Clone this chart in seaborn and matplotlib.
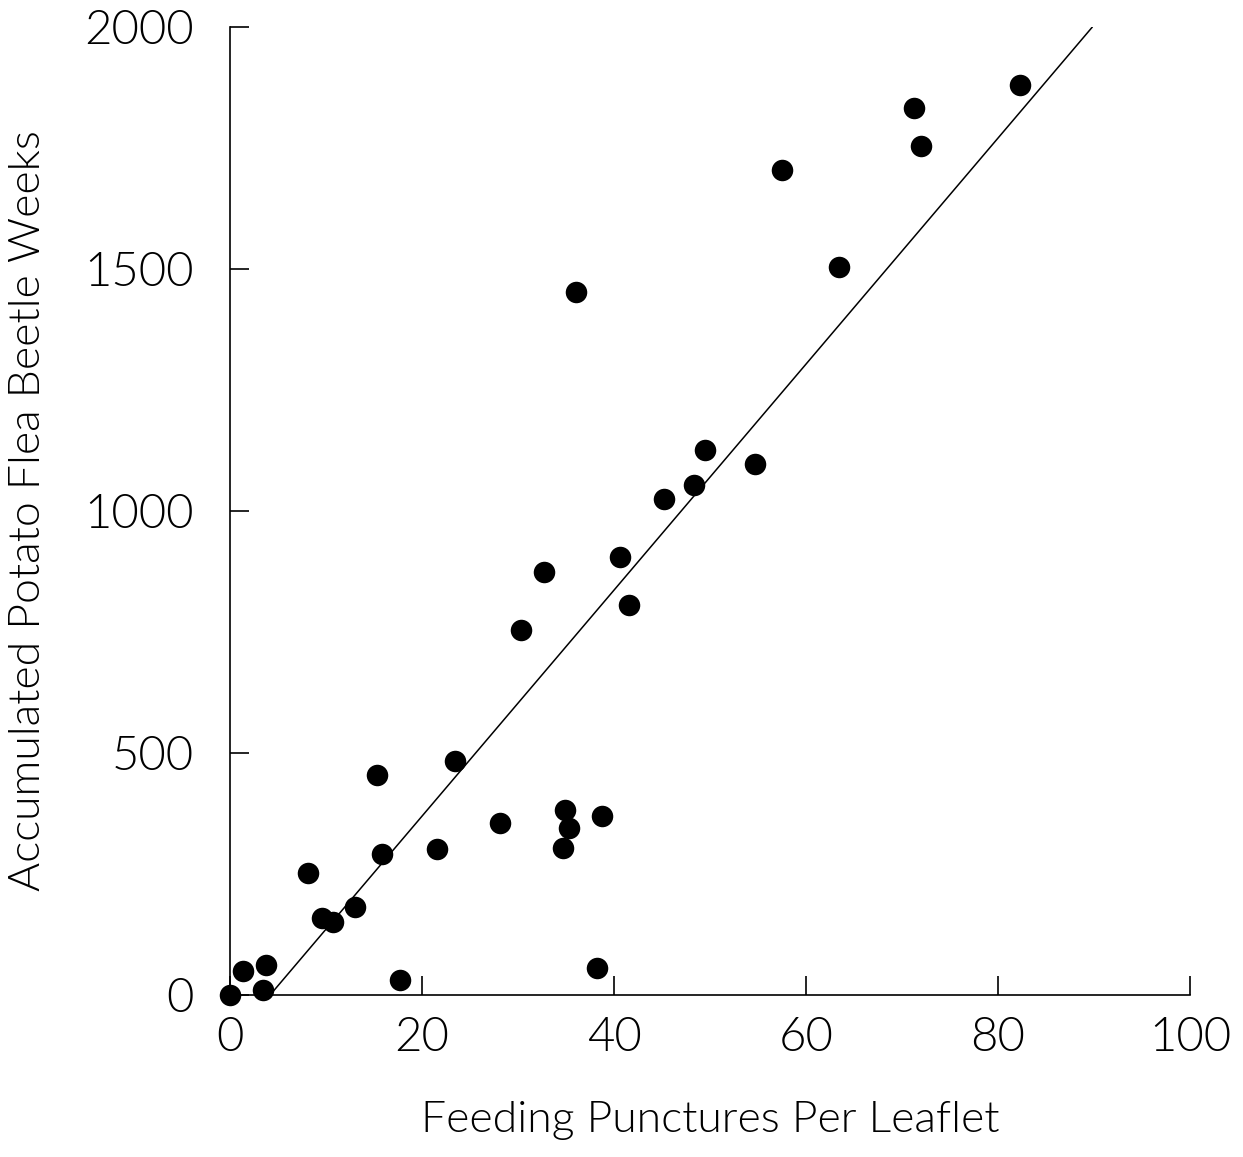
import numpy as np
import pandas as pd
import matplotlib
matplotlib.use("Agg")
import matplotlib.pyplot as plt
import seaborn as sns

# Feeding punctures per leaflet vs. accumulated flea beetle weeks
punctures = [0.0, 1.4, 3.7, 3.4, 8.1, 9.6, 10.7, 13.0, 15.3, 15.8, 17.7, 21.6,
             23.4, 28.1, 30.3, 32.7, 34.7, 34.9, 35.3, 36.0, 38.2, 38.7, 40.6,
             41.6, 45.2, 48.3, 49.5, 54.7, 57.5, 63.4, 71.3, 72.0, 82.3]
beetle_weeks = [0, 50, 62, 10, 252, 160, 150, 182, 455, 292, 32, 302,
                484, 355, 755, 875, 304, 383, 345, 1452, 56, 370, 904,
                805, 1024, 1053, 1127, 1098, 1704, 1504, 1832, 1754, 1880]

# Fitted line: beetle_weeks = slope * punctures + intercept
fit_slope = 23.35
fit_intercept = -97.5

df = pd.DataFrame({"x": punctures, "y": beetle_weeks})

sns.set_style("ticks")
plt.rcParams["font.family"] = ["Lato", "DejaVu Sans"]
plt.rcParams["text.color"] = "black"
plt.rcParams["axes.labelcolor"] = "black"

WEIGHT = 300

fig = plt.figure(figsize=(12.43, 11.57), dpi=100)
ax = fig.add_axes([230 / 1243, 162 / 1157, 960 / 1243, 968 / 1157])

sns.scatterplot(data=df, x="x", y="y", ax=ax, color="black", s=240,
                edgecolor="black", linewidth=0, zorder=3, legend=False,
                clip_on=False)

x0 = -fit_intercept / fit_slope
x1 = (2000 - fit_intercept) / fit_slope
xs = np.array([x0, x1])
ax.plot(xs, fit_slope * xs + fit_intercept, color="black", lw=1.1, zorder=2)

ax.set_xlim(0, 100)
ax.set_ylim(0, 2000)
ax.set_xticks([0, 20, 40, 60, 80, 100])
ax.set_yticks([0, 500, 1000, 1500, 2000])

for side in ("top", "right"):
    ax.spines[side].set_visible(False)
for side in ("left", "bottom"):
    ax.spines[side].set_linewidth(1.2)
    ax.spines[side].set_color("black")

ax.tick_params(axis="both", direction="in", length=14, width=1.2,
               labelsize=34, colors="black", labelcolor="black")
ax.tick_params(axis="x", pad=16)
ax.tick_params(axis="y", pad=26)
for lab in ax.get_xticklabels() + ax.get_yticklabels():
    lab.set_fontweight(WEIGHT)

ax.set_xlabel("Feeding Punctures Per Leaflet", fontsize=32, fontweight=WEIGHT,
              labelpad=30, color="black")
ax.set_ylabel("Accumulated Potato Flea Beetle Weeks", fontsize=32,
              fontweight=WEIGHT, labelpad=26, color="black")

fig.savefig("out.png", dpi=100, facecolor="white")
